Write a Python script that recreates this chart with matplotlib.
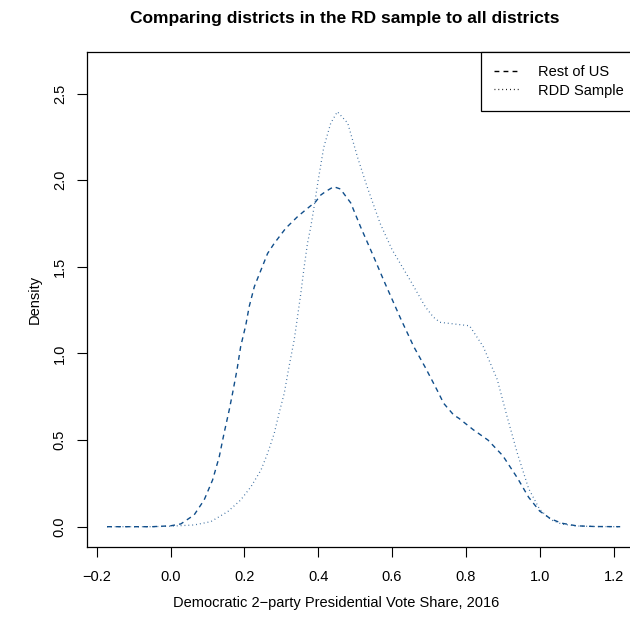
import numpy as np
import matplotlib.pyplot as plt
from matplotlib.lines import Line2D

plt.rcParams['font.family'] = ['Liberation Sans', 'DejaVu Sans']

# density curves
rest_x = [-0.172, -0.05, 0.0, 0.028, 0.064, 0.091, 0.114, 0.132, 0.145, 0.159, 0.168,
          0.18, 0.19, 0.204, 0.213, 0.227, 0.245, 0.263, 0.281, 0.312, 0.344, 0.371,
          0.393, 0.407, 0.42, 0.442, 0.46, 0.488, 0.515, 0.55, 0.58, 0.623, 0.659,
          0.691, 0.722, 0.74, 0.767, 0.781, 0.82, 0.86, 0.90, 0.94, 0.97, 1.00,
          1.03, 1.06, 1.10, 1.15, 1.218]
rest_y = [0, 0, 0.005, 0.016, 0.068, 0.154, 0.27, 0.404, 0.539, 0.674, 0.77,
          0.905, 1.04, 1.165, 1.27, 1.386, 1.482, 1.578, 1.636, 1.723, 1.79, 1.838,
          1.876, 1.915, 1.935, 1.963, 1.95, 1.87, 1.73, 1.56, 1.41, 1.203, 1.039,
          0.916, 0.789, 0.712, 0.645, 0.626, 0.56, 0.50, 0.41, 0.28, 0.17, 0.09,
          0.045, 0.02, 0.005, 0.001, 0]

rdd_x = [-0.172, -0.05, 0.0, 0.064, 0.109, 0.155, 0.19, 0.218, 0.245, 0.263, 0.281,
         0.294, 0.308, 0.321, 0.335, 0.344, 0.353, 0.362, 0.371, 0.38, 0.389, 0.40,
         0.415, 0.434, 0.452, 0.48, 0.507, 0.533, 0.568, 0.60, 0.65, 0.69, 0.712,
         0.73, 0.77, 0.81, 0.847, 0.885, 0.912, 0.94, 0.97, 1.0, 1.03, 1.06, 1.10,
         1.15, 1.218]
rdd_y = [0, 0, 0.003, 0.01, 0.029, 0.087, 0.154, 0.231, 0.327, 0.424, 0.539,
         0.655, 0.77, 0.924, 1.078, 1.212, 1.348, 1.50, 1.636, 1.732, 1.848, 2.0,
         2.19, 2.33, 2.396, 2.33, 2.13, 1.96, 1.75, 1.6, 1.42, 1.27, 1.21,
         1.18, 1.17, 1.16, 1.04, 0.85, 0.633, 0.42, 0.22, 0.10, 0.04, 0.015, 0.004,
         0.001, 0]

x_ticks = [-0.2, 0.0, 0.2, 0.4, 0.6, 0.8, 1.0, 1.2]
y_ticks = [0.0, 0.5, 1.0, 1.5, 2.0, 2.5]
labels = ['Rest of US', 'RDD Sample']

line_col = '#104E8B'
W, H = 630, 626

fig = plt.figure(figsize=(W / 100, H / 100), dpi=100)
left, right, top, bottom = 86.5, 640.7, 51.7, 546.7
ax = fig.add_axes([left / W, 1 - bottom / H, (right - left) / W, (bottom - top) / H])

ax.plot(rest_x, rest_y, color=line_col, lw=1, ls=(0, (3.5, 3)))
ax.plot(rdd_x, rdd_y, color=line_col, lw=0.9, ls=(0, (0.7, 2.4)), alpha=0.85)

ax.set_xlim(-0.2276, 1.2736)
ax.set_ylim(-0.1155, 2.7425)
ax.set_xticks(x_ticks)
ax.set_xticklabels([f'{t:.1f}'.replace('-', '\u2212') for t in x_ticks])
ax.set_yticks(y_ticks)
ax.set_yticklabels([f'{t:.1f}' for t in y_ticks], rotation=90, va='center')
ax.tick_params(direction='out', length=7.2, width=0.8, labelsize=10.5, color='black')
ax.tick_params(axis='x', pad=9.5)
ax.tick_params(axis='y', pad=7)
for s in ax.spines.values():
    s.set_linewidth(0.9)

handles = [Line2D([], [], color='black', lw=1, ls=(0, (3.5, 3))),
           Line2D([], [], color='black', lw=0.9, ls=(0, (0.7, 2.4)))]
leg = fig.legend(handles, labels, loc='upper left', bbox_to_anchor=(481 / W, 1 - 52 / H),
                 fontsize=10.5, frameon=True, fancybox=False, framealpha=1,
                 edgecolor='black', borderpad=0.9, handlelength=1.85,
                 handletextpad=1.15, labelspacing=0.3, borderaxespad=0)
leg.get_frame().set_linewidth(0.9)

fig.text(345 / W, 1 - 18 / H, 'Comparing districts in the RD sample to all districts',
         ha='center', va='center', fontsize=12.5, fontweight='bold')
fig.text(336 / W, 1 - 603 / H, 'Democratic 2\u2212party Presidential Vote Share, 2016',
         ha='center', va='center', fontsize=10.5)
fig.text(35 / W, 1 - 299.5 / H, 'Density', ha='center', va='center',
         rotation=90, fontsize=10.5)

fig.savefig('out.png', dpi=100)
